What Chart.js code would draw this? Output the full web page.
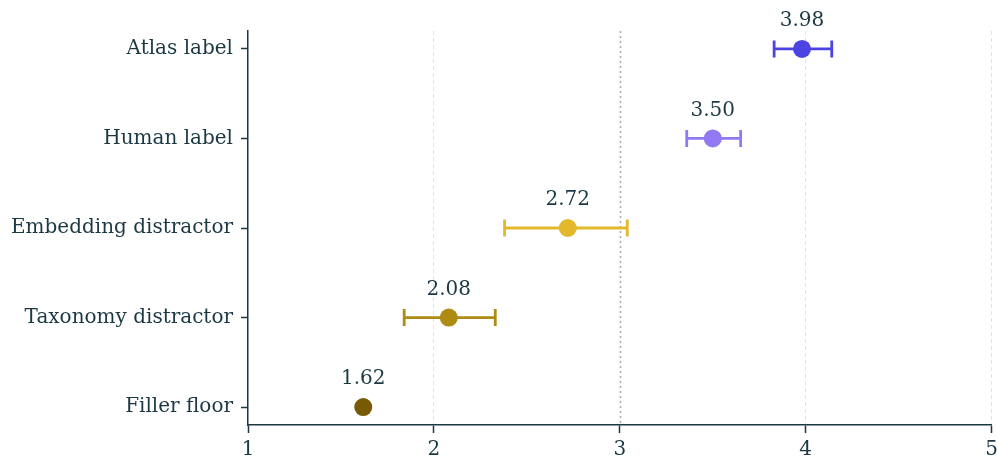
<!DOCTYPE html>
<html>
<head>
<meta charset="utf-8">
<script src="https://cdn.jsdelivr.net/npm/chart.js@4"></script>
<style>
  html, body { margin: 0; padding: 0; background: #ffffff; overflow: hidden; }
  #wrap { width: 997px; height: 457px; overflow: hidden; }
  #c { display: block; }
</style>
</head>
<body>
<div id="wrap"><canvas id="c" width="1003" height="457"></canvas></div>
<script>
// Rows, top to bottom
const CATEGORIES = ['Atlas label', 'Human label', 'Embedding distractor', 'Taxonomy distractor', 'Filler floor'];
// Mean score per row and its interval bounds
const MEANS = [3.98, 3.50, 2.72, 2.08, 1.62];
const LOWER = [3.83, 3.36, 2.38, 1.84, 1.62];
const UPPER = [4.14, 3.65, 3.04, 2.33, 1.62];
const COLORS = ['#4b44e2', '#9079f3', '#e3b92c', '#ae8b12', '#765a05'];
// x-axis ticks and the reference midpoint
const X_TICKS = [1, 2, 3, 4, 5];
const REF_LINE = 3;

const INK = '#1c3844';
const FONT = '"DejaVu Serif", "Liberation Serif", serif';
const FONT_SIZE = 20;

const errorBars = {
  id: 'errorBars',
  beforeDatasetsDraw(chart) {
    const { ctx, scales: { x, y }, chartArea } = chart;
    // dotted reference line
    ctx.save();
    ctx.strokeStyle = '#adadad';
    ctx.lineWidth = 1.6;
    ctx.setLineDash([2, 3]);
    const rx = Math.round(x.getPixelForValue(REF_LINE)) + 0.5;
    ctx.beginPath();
    ctx.moveTo(rx, chartArea.top);
    ctx.lineTo(rx, chartArea.bottom);
    ctx.stroke();
    ctx.restore();

    // interval whiskers with end caps
    ctx.save();
    ctx.lineWidth = 2.8;
    ctx.lineCap = 'butt';
    CATEGORIES.forEach((_, i) => {
      if (UPPER[i] - LOWER[i] <= 0) return;
      const py = y.getPixelForValue(i);
      const x0 = x.getPixelForValue(LOWER[i]);
      const x1 = x.getPixelForValue(UPPER[i]);
      const cap = 8.5;
      ctx.strokeStyle = COLORS[i];
      ctx.beginPath();
      ctx.moveTo(x0, py); ctx.lineTo(x1, py);
      ctx.moveTo(x0, py - cap); ctx.lineTo(x0, py + cap);
      ctx.moveTo(x1, py - cap); ctx.lineTo(x1, py + cap);
      ctx.stroke();
    });
    ctx.restore();
  },
  afterDatasetsDraw(chart) {
    // value labels above each point
    const { ctx, scales: { x, y } } = chart;
    ctx.save();
    ctx.fillStyle = INK;
    ctx.font = FONT_SIZE + 'px ' + FONT;
    ctx.textAlign = 'center';
    ctx.textBaseline = 'middle';
    MEANS.forEach((m, i) => {
      ctx.fillText(m.toFixed(2), x.getPixelForValue(m), y.getPixelForValue(i) - 28);
    });
    ctx.restore();
  }
};

new Chart(document.getElementById('c'), {
  type: 'scatter',
  data: {
    datasets: [{
      data: MEANS.map((m, i) => ({ x: m, y: i })),
      pointBackgroundColor: COLORS,
      pointBorderWidth: 0,
      pointRadius: 9,
      pointHoverRadius: 9
    }]
  },
  options: {
    responsive: false,
    animation: false,
    events: [],
    layout: { padding: { top: 31, right: 0, left: 0, bottom: 0 } },
    plugins: { legend: { display: false }, tooltip: { enabled: false } },
    scales: {
      x: {
        type: 'linear',
        min: X_TICKS[0],
        max: X_TICKS[X_TICKS.length - 1],
        afterBuildTicks: (s) => { s.ticks = X_TICKS.map(v => ({ value: v })); },
        afterFit: (s) => { s.height = 32; },
        ticks: { color: INK, font: { family: FONT, size: FONT_SIZE }, padding: 5, maxRotation: 0 },
        grid: {
          color: (c) => (c.tick && (c.tick.value === X_TICKS[0] || c.tick.value === REF_LINE)) ? 'rgba(0,0,0,0)' : '#e2e2e2',
          lineWidth: 1,
          tickColor: INK,
          tickWidth: 1.5,
          tickLength: 8,
          tickBorderDash: []
        },
        border: { display: true, color: INK, width: 1.5, dash: [4, 3] }
      },
      y: {
        type: 'linear',
        reverse: true,
        min: -0.2,
        max: CATEGORIES.length - 1 + 0.2,
        afterBuildTicks: (s) => { s.ticks = CATEGORIES.map((_, i) => ({ value: i })); },
        afterFit: (s) => { s.width = 248; },
        ticks: {
          color: INK,
          font: { family: FONT, size: FONT_SIZE },
          padding: 8,
          callback: (v) => CATEGORIES[v]
        },
        grid: {
          drawOnChartArea: false,
          tickColor: INK,
          tickWidth: 1.5,
          tickLength: 7
        },
        border: { display: true, color: INK, width: 1.5 }
      }
    }
  },
  plugins: [errorBars]
});
</script>
</body>
</html>
